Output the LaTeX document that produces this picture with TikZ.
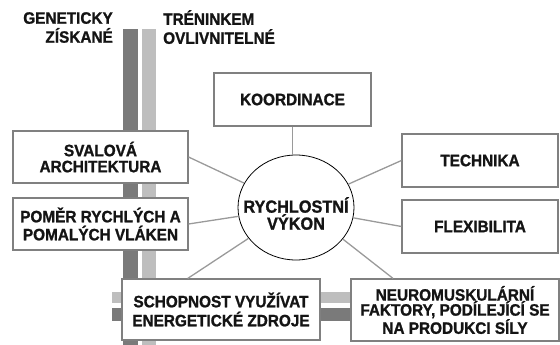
\documentclass[tikz,border=0pt]{standalone}
\usepackage{fontspec}
\setmainfont{Liberation Sans}
\newfontfamily\lbf[FakeStretch=0.93,FakeBold=1.2]{Liberation Sans Bold}
\usetikzlibrary{shapes.geometric}
\definecolor{bardark}{HTML}{7A7A7A}
\definecolor{barlight}{HTML}{BEBEBE}
\definecolor{boxline}{HTML}{808080}
\definecolor{conline}{HTML}{9A9A9A}
\definecolor{txt}{HTML}{141414}
\begin{document}
\begin{tikzpicture}[x=1pt,y=-1pt,
  lbl/.style={font=\lbf\fontsize{16.5}{#1}\selectfont, text=txt, inner sep=0pt, align=center},
  factbox/.style={draw=boxline, line width=1.1pt, fill=white, inner sep=0pt, align=center},
  conn/.style={draw=conline, line width=1.3pt},
  hdr/.style={font=\lbf\fontsize{16.5}{19}\selectfont, text=txt, inner sep=0pt}
]
\useasboundingbox (0,0) rectangle (560,345);
% bars
\fill[bardark] (123,29) rectangle (138,345);
\fill[barlight] (142,29) rectangle (156,345);
\fill[barlight] (112,292) rectangle (360,303);
\fill[bardark] (112,308) rectangle (360,321);
% headers
\node[hdr, anchor=north east, align=right] (gen) at (113,12) {GENETICKY\\ZÍSKANÉ};
\node[hdr, anchor=north west, align=left] (tren) at (163,10) {TRÉNINKEM\\OVLIVNITELNÉ};
% boxes
\node[factbox, lbl=17, minimum width=157, minimum height=53] (koord) at (292.5,99.5) {KOORDINACE};
\node[factbox, lbl=17, minimum width=156, minimum height=53] (tech) at (480,160.5) {TECHNIKA};
\node[factbox, lbl=17, minimum width=156, minimum height=53] (flex) at (480,226.5) {FLEXIBILITA};
\node[factbox, lbl=16, minimum width=175, minimum height=52] (sval) at (100.5,157) {SVALOVÁ\\ARCHITEKTURA};
\node[factbox, lbl=18, minimum width=175, minimum height=52] (pomer) at (100.5,224) {POMĚR RYCHLÝCH A\\POMALÝCH VLÁKEN};
\node[factbox, lbl=19, minimum width=198, minimum height=61] (schop) at (221,309.5) {SCHOPNOST VYUŽÍVAT\\ENERGETICKÉ ZDROJE};
\node[factbox, lbl=15, minimum width=208, minimum height=62] (neuro) at (455,310) {NEUROMUSKULÁRNÍ\\FAKTORY, PODÍLEJÍCÍ SE\\NA PRODUKCI SÍLY};
% centre
\node[ellipse, draw=black, line width=0.8pt, fill=white, lbl=17, font=\lbf\fontsize{17.5}{17}\selectfont, inner xsep=-30pt, inner ysep=-22pt, minimum width=116, minimum height=105] (circ) at (296,207.5) {\rule{0pt}{27.5pt}RYCHLOSTNÍ\\VÝKON};
% connectors
\draw[conn] (koord.south) -- (koord.south |- circ.north);
\draw[conn] (circ) -- (tech.west);
\draw[conn] (circ) -- (flex.west);
\draw[conn] (circ) -- (sval.east);
\draw[conn] (circ) -- (pomer.east);
\draw[conn] (circ.213) -- (schop.137);
\draw[conn] (circ.326) -- (neuro.153);
\end{tikzpicture}
\end{document}
